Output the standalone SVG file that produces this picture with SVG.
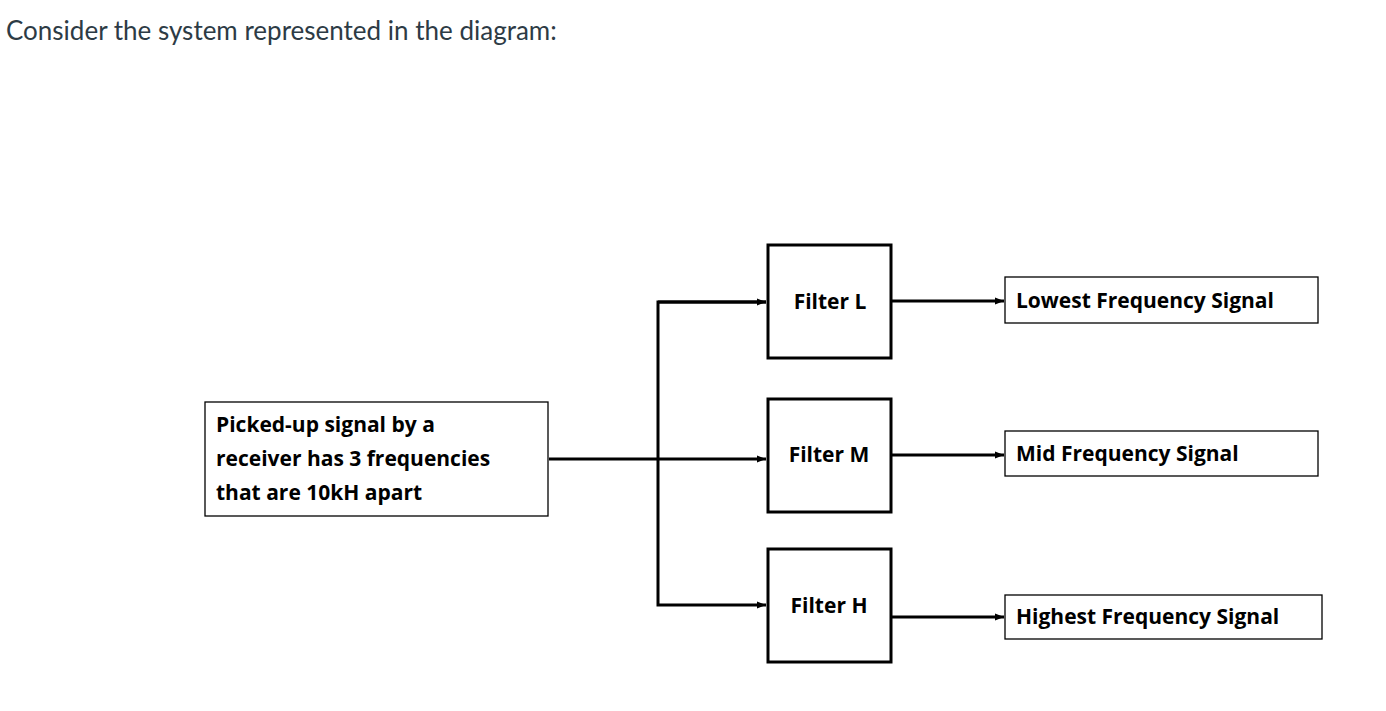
<svg xmlns="http://www.w3.org/2000/svg" width="1386" height="711" viewBox="0 0 1386 711">
<style>
.t{font-family:"Open Sans","Liberation Sans",sans-serif;font-weight:bold;font-size:21px;fill:#000}
.thin{fill:#fff;stroke:#000;stroke-width:1.3}
.thick{fill:#fff;stroke:#000;stroke-width:3}
.c{fill:none;stroke:#000;stroke-width:3}
</style>
<defs><marker id="a" viewBox="0 0 10 10" refX="10" refY="5" markerWidth="3" markerHeight="3" orient="auto"><path d="M0,1 L10,5 L0,9z" fill="#000"/></marker></defs>
<rect width="1386" height="711" fill="#fff"/>
<text x="6" y="40" font-family="Lato,sans-serif" font-size="26" fill="#2d3b45">Consider the system represented in the diagram:</text>
<g id="connectors">
<path class="c" d="M549,459 H766" marker-end="url(#a)"/>
<path class="c" d="M766,302 H658 V605 H766" marker-end="url(#a)"/>
<path class="c" d="M658,302 H766" marker-end="url(#a)"/>
<path class="c" d="M891,301 H1004" marker-end="url(#a)"/>
<path class="c" d="M891,455 H1004" marker-end="url(#a)"/>
<path class="c" d="M891,617 H1004" marker-end="url(#a)"/>
</g>
<g id="input"><rect class="thin" x="205" y="402" width="343" height="114"/>
<text class="t" x="216" y="432">Picked-up signal by a</text>
<text class="t" x="216" y="466">receiver has 3 frequencies</text>
<text class="t" x="216" y="500">that are 10kH apart</text></g>
<g id="filterL"><rect class="thick" x="768" y="245" width="123" height="113"/><text class="t" x="830" y="309" text-anchor="middle">Filter L</text></g>
<g id="filterM"><rect class="thick" x="768" y="399" width="123" height="113"/><text class="t" x="829" y="462" text-anchor="middle">Filter M</text></g>
<g id="filterH"><rect class="thick" x="768" y="549" width="123" height="113"/><text class="t" x="829" y="613" text-anchor="middle">Filter H</text></g>
<g id="outL"><rect class="thin" x="1005" y="277" width="313" height="46"/><text class="t" x="1016" y="308">Lowest Frequency Signal</text></g>
<g id="outM"><rect class="thin" x="1005" y="431" width="313" height="45"/><text class="t" x="1016" y="461">Mid Frequency Signal</text></g>
<g id="outH"><rect class="thin" x="1005" y="595" width="317" height="44"/><text class="t" x="1016" y="624">Highest Frequency Signal</text></g>
</svg>
